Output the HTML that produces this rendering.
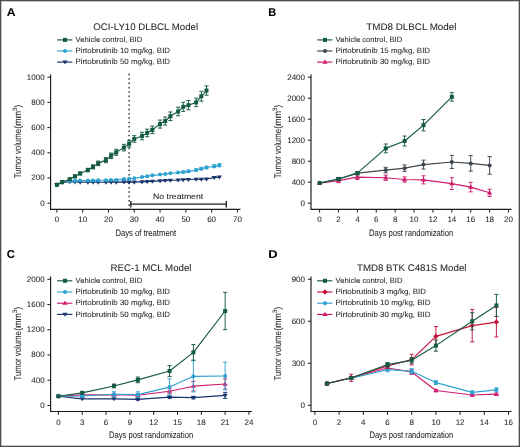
<!DOCTYPE html>
<html><head><meta charset="utf-8"><style>
html,body{margin:0;padding:0;background:#fff;}
body{width:520px;height:447px;overflow:hidden;}
svg{display:block;will-change:transform;font-family:"Liberation Sans", sans-serif;text-rendering:geometricPrecision;}
text{stroke:#262626;stroke-width:0.06px;paint-order:stroke;}
</style></head><body>
<svg width="520" height="447" viewBox="0 0 520 447">
<rect x="0" y="0" width="520" height="447" fill="#fff"/>
<text x="6.8" y="15.9" font-size="11.4" text-anchor="start" font-weight="bold" fill="#000" textLength="8.83" lengthAdjust="spacingAndGlyphs">A</text>
<text x="93.35" y="29.9" font-size="9.5" text-anchor="start" font-weight="normal" fill="#262626" textLength="104.79" lengthAdjust="spacingAndGlyphs">OCI-LY10 DLBCL Model</text>
<path d="M50.60,74.50V209.30H240.43" fill="none" stroke="#1a1a1a" stroke-width="1.15"/>
<path d="M47.40,203.20H50.60" stroke="#1a1a1a" stroke-width="1"/>
<text x="44.60" y="205.65" font-size="8.0" text-anchor="end" font-weight="normal" fill="#262626">0</text>
<path d="M47.40,178.00H50.60" stroke="#1a1a1a" stroke-width="1"/>
<text x="44.60" y="180.45" font-size="8.0" text-anchor="end" font-weight="normal" fill="#262626">200</text>
<path d="M47.40,152.80H50.60" stroke="#1a1a1a" stroke-width="1"/>
<text x="44.60" y="155.25" font-size="8.0" text-anchor="end" font-weight="normal" fill="#262626">400</text>
<path d="M47.40,127.60H50.60" stroke="#1a1a1a" stroke-width="1"/>
<text x="44.60" y="130.05" font-size="8.0" text-anchor="end" font-weight="normal" fill="#262626">600</text>
<path d="M47.40,102.40H50.60" stroke="#1a1a1a" stroke-width="1"/>
<text x="44.60" y="104.85" font-size="8.0" text-anchor="end" font-weight="normal" fill="#262626">800</text>
<path d="M47.40,77.20H50.60" stroke="#1a1a1a" stroke-width="1"/>
<text x="44.60" y="79.65" font-size="8.0" text-anchor="end" font-weight="normal" fill="#262626">1000</text>
<path d="M56.90,209.30V212.60" stroke="#1a1a1a" stroke-width="1"/>
<text x="56.90" y="222.30" font-size="8.0" text-anchor="middle" font-weight="normal" fill="#262626">0</text>
<path d="M82.69,209.30V212.60" stroke="#1a1a1a" stroke-width="1"/>
<text x="82.69" y="222.30" font-size="8.0" text-anchor="middle" font-weight="normal" fill="#262626">10</text>
<path d="M108.48,209.30V212.60" stroke="#1a1a1a" stroke-width="1"/>
<text x="108.48" y="222.30" font-size="8.0" text-anchor="middle" font-weight="normal" fill="#262626">20</text>
<path d="M134.27,209.30V212.60" stroke="#1a1a1a" stroke-width="1"/>
<text x="134.27" y="222.30" font-size="8.0" text-anchor="middle" font-weight="normal" fill="#262626">30</text>
<path d="M160.06,209.30V212.60" stroke="#1a1a1a" stroke-width="1"/>
<text x="160.06" y="222.30" font-size="8.0" text-anchor="middle" font-weight="normal" fill="#262626">40</text>
<path d="M185.85,209.30V212.60" stroke="#1a1a1a" stroke-width="1"/>
<text x="185.85" y="222.30" font-size="8.0" text-anchor="middle" font-weight="normal" fill="#262626">50</text>
<path d="M211.64,209.30V212.60" stroke="#1a1a1a" stroke-width="1"/>
<text x="211.64" y="222.30" font-size="8.0" text-anchor="middle" font-weight="normal" fill="#262626">60</text>
<path d="M237.43,209.30V212.60" stroke="#1a1a1a" stroke-width="1"/>
<text x="237.43" y="222.30" font-size="8.0" text-anchor="middle" font-weight="normal" fill="#262626">70</text>
<text x="115.47" y="235.9" font-size="9.3" text-anchor="start" font-weight="normal" fill="#262626" textLength="60.59" lengthAdjust="spacingAndGlyphs">Days of treatment</text>
<g transform="translate(21.3,178.2) rotate(-90)"><text x="-0.17" y="0" font-size="9.7" text-anchor="start" font-weight="normal" fill="#262626" textLength="49.32" lengthAdjust="spacingAndGlyphs">Tumor volume</text><text x="49.55" y="0" font-size="9.7" text-anchor="start" font-weight="normal" fill="#262626" textLength="17.73" lengthAdjust="spacingAndGlyphs">(mm</text><text x="67.05" y="-4.2" font-size="6.4" text-anchor="start" font-weight="normal" fill="#262626" textLength="3.64" lengthAdjust="spacingAndGlyphs">3</text><text x="70.75" y="0" font-size="9.7" text-anchor="start" font-weight="normal" fill="#262626" textLength="2.7" lengthAdjust="spacingAndGlyphs">)</text></g>
<path d="M129.11,73.85V210" stroke="#1a1a1a" stroke-width="1.3" stroke-dasharray="1.5,2.85"/>
<path d="M130.6,204.2H226.2" stroke="#1e1e1e" stroke-width="1.2"/>
<path d="M130.8,200.9V207.5M226.3,200.9V207.5" stroke="#1e1e1e" stroke-width="1.35"/>
<text x="153.09" y="199.2" font-size="7.9" text-anchor="start" font-weight="normal" fill="#262626" textLength="50.07" lengthAdjust="spacingAndGlyphs">No treatment</text>
<path d="M56.90,184.93L62.06,182.41L69.80,181.78L74.95,182.03L80.11,182.16L87.85,182.28L93.01,182.28L98.16,182.28L105.90,182.28L111.06,182.16L116.22,182.16L123.95,181.91L129.11,182.16L134.27,182.16L142.01,181.91L147.16,181.65L152.32,181.40L160.06,180.90L165.22,180.65L170.38,180.27L178.11,180.14L183.27,179.76L188.43,179.51L196.17,179.26L201.32,179.26L206.48,179.01L214.22,177.62L219.38,177.12" fill="none" stroke="#17346c" stroke-width="1.15" stroke-linejoin="round"/>
<path d="M54.30,183.37L59.50,183.37L56.90,187.40Z" fill="#17346c"/>
<path d="M59.46,180.85L64.66,180.85L62.06,184.88Z" fill="#17346c"/>
<path d="M67.20,180.22L72.39,180.22L69.80,184.25Z" fill="#17346c"/>
<path d="M72.35,180.47L77.55,180.47L74.95,184.50Z" fill="#17346c"/>
<path d="M77.51,180.60L82.71,180.60L80.11,184.63Z" fill="#17346c"/>
<path d="M85.25,180.72L90.45,180.72L87.85,184.75Z" fill="#17346c"/>
<path d="M90.41,180.72L95.61,180.72L93.01,184.75Z" fill="#17346c"/>
<path d="M95.56,180.72L100.76,180.72L98.16,184.75Z" fill="#17346c"/>
<path d="M103.30,180.72L108.50,180.72L105.90,184.75Z" fill="#17346c"/>
<path d="M108.46,180.60L113.66,180.60L111.06,184.63Z" fill="#17346c"/>
<path d="M113.62,180.60L118.82,180.60L116.22,184.63Z" fill="#17346c"/>
<path d="M121.35,180.35L126.55,180.35L123.95,184.38Z" fill="#17346c"/>
<path d="M126.51,180.60L131.71,180.60L129.11,184.63Z" fill="#17346c"/>
<path d="M131.67,180.60L136.87,180.60L134.27,184.63Z" fill="#17346c"/>
<path d="M139.41,180.35L144.61,180.35L142.01,184.38Z" fill="#17346c"/>
<path d="M144.56,180.09L149.76,180.09L147.16,184.12Z" fill="#17346c"/>
<path d="M149.72,179.84L154.92,179.84L152.32,183.87Z" fill="#17346c"/>
<path d="M157.46,179.34L162.66,179.34L160.06,183.37Z" fill="#17346c"/>
<path d="M162.62,179.09L167.82,179.09L165.22,183.12Z" fill="#17346c"/>
<path d="M167.78,178.71L172.98,178.71L170.38,182.74Z" fill="#17346c"/>
<path d="M175.51,178.58L180.71,178.58L178.11,182.61Z" fill="#17346c"/>
<path d="M180.67,178.20L185.87,178.20L183.27,182.23Z" fill="#17346c"/>
<path d="M185.83,177.95L191.03,177.95L188.43,181.98Z" fill="#17346c"/>
<path d="M193.57,177.70L198.77,177.70L196.17,181.73Z" fill="#17346c"/>
<path d="M198.72,177.70L203.92,177.70L201.32,181.73Z" fill="#17346c"/>
<path d="M203.88,177.45L209.08,177.45L206.48,181.48Z" fill="#17346c"/>
<path d="M211.62,176.06L216.82,176.06L214.22,180.09Z" fill="#17346c"/>
<path d="M216.78,175.56L221.98,175.56L219.38,179.59Z" fill="#17346c"/>
<path d="M56.90,184.93L62.06,182.03L69.80,181.02L74.95,180.77L80.11,180.52L87.85,180.52L93.01,180.39L98.16,180.27L105.90,180.27L111.06,180.02L116.22,179.89L123.95,179.01L129.11,178.76L134.27,178.25L142.01,177.12L147.16,176.24L152.32,175.35L160.06,174.60L165.22,173.97L170.38,173.21L178.11,172.58L183.27,172.08L188.43,171.32L196.17,170.06L201.32,168.68L206.48,167.54L214.22,166.28L219.38,165.27" fill="none" stroke="#2ea2d0" stroke-width="1.15" stroke-linejoin="round"/>
<path d="M183.27,171.20V172.96M181.22,171.20H185.32M181.22,172.96H185.32" stroke="#2ea2d0" stroke-width="0.95" fill="none"/>
<path d="M188.43,170.31V172.33M186.38,170.31H190.48M186.38,172.33H190.48" stroke="#2ea2d0" stroke-width="0.95" fill="none"/>
<path d="M196.17,168.93V171.20M194.12,168.93H198.22M194.12,171.20H198.22" stroke="#2ea2d0" stroke-width="0.95" fill="none"/>
<path d="M201.32,167.42V169.94M199.27,167.42H203.37M199.27,169.94H203.37" stroke="#2ea2d0" stroke-width="0.95" fill="none"/>
<path d="M206.48,166.28V168.80M204.43,166.28H208.53M204.43,168.80H208.53" stroke="#2ea2d0" stroke-width="0.95" fill="none"/>
<path d="M214.22,164.90V167.67M212.17,164.90H216.27M212.17,167.67H216.27" stroke="#2ea2d0" stroke-width="0.95" fill="none"/>
<path d="M219.38,163.76V166.79M217.33,163.76H221.43M217.33,166.79H221.43" stroke="#2ea2d0" stroke-width="0.95" fill="none"/>
<circle cx="56.90" cy="184.93" r="2.00" fill="#2ea2d0"/>
<circle cx="62.06" cy="182.03" r="2.00" fill="#2ea2d0"/>
<circle cx="69.80" cy="181.02" r="2.00" fill="#2ea2d0"/>
<circle cx="74.95" cy="180.77" r="2.00" fill="#2ea2d0"/>
<circle cx="80.11" cy="180.52" r="2.00" fill="#2ea2d0"/>
<circle cx="87.85" cy="180.52" r="2.00" fill="#2ea2d0"/>
<circle cx="93.01" cy="180.39" r="2.00" fill="#2ea2d0"/>
<circle cx="98.16" cy="180.27" r="2.00" fill="#2ea2d0"/>
<circle cx="105.90" cy="180.27" r="2.00" fill="#2ea2d0"/>
<circle cx="111.06" cy="180.02" r="2.00" fill="#2ea2d0"/>
<circle cx="116.22" cy="179.89" r="2.00" fill="#2ea2d0"/>
<circle cx="123.95" cy="179.01" r="2.00" fill="#2ea2d0"/>
<circle cx="129.11" cy="178.76" r="2.00" fill="#2ea2d0"/>
<circle cx="134.27" cy="178.25" r="2.00" fill="#2ea2d0"/>
<circle cx="142.01" cy="177.12" r="2.00" fill="#2ea2d0"/>
<circle cx="147.16" cy="176.24" r="2.00" fill="#2ea2d0"/>
<circle cx="152.32" cy="175.35" r="2.00" fill="#2ea2d0"/>
<circle cx="160.06" cy="174.60" r="2.00" fill="#2ea2d0"/>
<circle cx="165.22" cy="173.97" r="2.00" fill="#2ea2d0"/>
<circle cx="170.38" cy="173.21" r="2.00" fill="#2ea2d0"/>
<circle cx="178.11" cy="172.58" r="2.00" fill="#2ea2d0"/>
<circle cx="183.27" cy="172.08" r="2.00" fill="#2ea2d0"/>
<circle cx="188.43" cy="171.32" r="2.00" fill="#2ea2d0"/>
<circle cx="196.17" cy="170.06" r="2.00" fill="#2ea2d0"/>
<circle cx="201.32" cy="168.68" r="2.00" fill="#2ea2d0"/>
<circle cx="206.48" cy="167.54" r="2.00" fill="#2ea2d0"/>
<circle cx="214.22" cy="166.28" r="2.00" fill="#2ea2d0"/>
<circle cx="219.38" cy="165.27" r="2.00" fill="#2ea2d0"/>
<path d="M56.90,184.68L62.06,182.16L69.80,179.26L74.95,176.36L80.11,173.46L87.85,170.06L93.01,166.91L98.16,163.38L105.90,160.11L111.06,155.82L116.22,152.30L123.95,147.63L129.11,143.85L134.27,138.94L142.01,136.04L147.16,132.89L152.32,129.87L160.06,124.07L165.22,121.05L170.38,116.26L178.11,111.47L183.27,106.81L188.43,105.17L196.17,102.40L201.32,96.23L206.48,90.56" fill="none" stroke="#155a43" stroke-width="1.15" stroke-linejoin="round"/>
<path d="M56.90,183.67V185.69M54.85,183.67H58.95M54.85,185.69H58.95" stroke="#155a43" stroke-width="0.95" fill="none"/>
<path d="M62.06,181.02V183.29M60.01,181.02H64.11M60.01,183.29H64.11" stroke="#155a43" stroke-width="0.95" fill="none"/>
<path d="M69.80,178.00V180.52M67.75,178.00H71.84M67.75,180.52H71.84" stroke="#155a43" stroke-width="0.95" fill="none"/>
<path d="M74.95,174.98V177.75M72.90,174.98H77.00M72.90,177.75H77.00" stroke="#155a43" stroke-width="0.95" fill="none"/>
<path d="M80.11,171.95V174.98M78.06,171.95H82.16M78.06,174.98H82.16" stroke="#155a43" stroke-width="0.95" fill="none"/>
<path d="M87.85,168.30V171.83M85.80,168.30H89.90M85.80,171.83H89.90" stroke="#155a43" stroke-width="0.95" fill="none"/>
<path d="M93.01,164.90V168.93M90.96,164.90H95.06M90.96,168.93H95.06" stroke="#155a43" stroke-width="0.95" fill="none"/>
<path d="M98.16,161.12V165.65M96.11,161.12H100.21M96.11,165.65H100.21" stroke="#155a43" stroke-width="0.95" fill="none"/>
<path d="M105.90,157.59V162.63M103.85,157.59H107.95M103.85,162.63H107.95" stroke="#155a43" stroke-width="0.95" fill="none"/>
<path d="M111.06,153.05V158.60M109.01,153.05H113.11M109.01,158.60H113.11" stroke="#155a43" stroke-width="0.95" fill="none"/>
<path d="M116.22,149.27V155.32M114.17,149.27H118.27M114.17,155.32H118.27" stroke="#155a43" stroke-width="0.95" fill="none"/>
<path d="M123.95,144.36V150.91M121.90,144.36H126.00M121.90,150.91H126.00" stroke="#155a43" stroke-width="0.95" fill="none"/>
<path d="M129.11,140.58V147.13M127.06,140.58H131.16M127.06,147.13H131.16" stroke="#155a43" stroke-width="0.95" fill="none"/>
<path d="M134.27,135.66V142.22M132.22,135.66H136.32M132.22,142.22H136.32" stroke="#155a43" stroke-width="0.95" fill="none"/>
<path d="M142.01,132.26V139.82M139.96,132.26H144.06M139.96,139.82H144.06" stroke="#155a43" stroke-width="0.95" fill="none"/>
<path d="M147.16,129.11V136.67M145.11,129.11H149.22M145.11,136.67H149.22" stroke="#155a43" stroke-width="0.95" fill="none"/>
<path d="M152.32,126.09V133.65M150.27,126.09H154.37M150.27,133.65H154.37" stroke="#155a43" stroke-width="0.95" fill="none"/>
<path d="M160.06,120.04V128.10M158.01,120.04H162.11M158.01,128.10H162.11" stroke="#155a43" stroke-width="0.95" fill="none"/>
<path d="M165.22,117.02V125.08M163.17,117.02H167.27M163.17,125.08H167.27" stroke="#155a43" stroke-width="0.95" fill="none"/>
<path d="M170.38,111.98V120.54M168.33,111.98H172.43M168.33,120.54H172.43" stroke="#155a43" stroke-width="0.95" fill="none"/>
<path d="M178.11,107.19V115.76M176.06,107.19H180.16M176.06,115.76H180.16" stroke="#155a43" stroke-width="0.95" fill="none"/>
<path d="M183.27,102.27V111.35M181.22,102.27H185.32M181.22,111.35H185.32" stroke="#155a43" stroke-width="0.95" fill="none"/>
<path d="M188.43,100.51V109.83M186.38,100.51H190.48M186.38,109.83H190.48" stroke="#155a43" stroke-width="0.95" fill="none"/>
<path d="M196.17,98.12V106.68M194.12,98.12H198.22M194.12,106.68H198.22" stroke="#155a43" stroke-width="0.95" fill="none"/>
<path d="M201.32,91.31V101.14M199.27,91.31H203.37M199.27,101.14H203.37" stroke="#155a43" stroke-width="0.95" fill="none"/>
<path d="M206.48,85.89V95.22M204.43,85.89H208.53M204.43,95.22H208.53" stroke="#155a43" stroke-width="0.95" fill="none"/>
<rect x="54.90" y="182.68" width="4.00" height="4.00" fill="#155a43"/>
<rect x="60.06" y="180.16" width="4.00" height="4.00" fill="#155a43"/>
<rect x="67.80" y="177.26" width="4.00" height="4.00" fill="#155a43"/>
<rect x="72.95" y="174.36" width="4.00" height="4.00" fill="#155a43"/>
<rect x="78.11" y="171.46" width="4.00" height="4.00" fill="#155a43"/>
<rect x="85.85" y="168.06" width="4.00" height="4.00" fill="#155a43"/>
<rect x="91.01" y="164.91" width="4.00" height="4.00" fill="#155a43"/>
<rect x="96.16" y="161.38" width="4.00" height="4.00" fill="#155a43"/>
<rect x="103.90" y="158.11" width="4.00" height="4.00" fill="#155a43"/>
<rect x="109.06" y="153.82" width="4.00" height="4.00" fill="#155a43"/>
<rect x="114.22" y="150.30" width="4.00" height="4.00" fill="#155a43"/>
<rect x="121.95" y="145.63" width="4.00" height="4.00" fill="#155a43"/>
<rect x="127.11" y="141.85" width="4.00" height="4.00" fill="#155a43"/>
<rect x="132.27" y="136.94" width="4.00" height="4.00" fill="#155a43"/>
<rect x="140.01" y="134.04" width="4.00" height="4.00" fill="#155a43"/>
<rect x="145.16" y="130.89" width="4.00" height="4.00" fill="#155a43"/>
<rect x="150.32" y="127.87" width="4.00" height="4.00" fill="#155a43"/>
<rect x="158.06" y="122.07" width="4.00" height="4.00" fill="#155a43"/>
<rect x="163.22" y="119.05" width="4.00" height="4.00" fill="#155a43"/>
<rect x="168.38" y="114.26" width="4.00" height="4.00" fill="#155a43"/>
<rect x="176.11" y="109.47" width="4.00" height="4.00" fill="#155a43"/>
<rect x="181.27" y="104.81" width="4.00" height="4.00" fill="#155a43"/>
<rect x="186.43" y="103.17" width="4.00" height="4.00" fill="#155a43"/>
<rect x="194.17" y="100.40" width="4.00" height="4.00" fill="#155a43"/>
<rect x="199.32" y="94.23" width="4.00" height="4.00" fill="#155a43"/>
<rect x="204.48" y="88.56" width="4.00" height="4.00" fill="#155a43"/>
<path d="M57.1,39.9H72.4" stroke="#155a43" stroke-width="1.15"/>
<rect x="63.00" y="37.90" width="4.00" height="4.00" fill="#155a43"/>
<text x="75.57" y="42.10" font-size="7.6" text-anchor="start" font-weight="normal" fill="#262626" textLength="66.6" lengthAdjust="spacingAndGlyphs">Vehicle control, BID</text>
<path d="M57.1,51.0H72.4" stroke="#2ea2d0" stroke-width="1.15"/>
<circle cx="65.00" cy="51.00" r="2.00" fill="#2ea2d0"/>
<text x="75.45" y="53.20" font-size="7.6" text-anchor="start" font-weight="normal" fill="#262626" textLength="94.63" lengthAdjust="spacingAndGlyphs">Pirtobrutinib 10 mg/kg, BID</text>
<path d="M57.1,62.1H72.4" stroke="#17346c" stroke-width="1.15"/>
<path d="M62.40,60.54L67.60,60.54L65.00,64.57Z" fill="#17346c"/>
<text x="75.45" y="64.30" font-size="7.6" text-anchor="start" font-weight="normal" fill="#262626" textLength="94.63" lengthAdjust="spacingAndGlyphs">Pirtobrutinib 50 mg/kg, BID</text>
<text x="268.37" y="15.9" font-size="11.4" text-anchor="start" font-weight="bold" fill="#000" textLength="7.93" lengthAdjust="spacingAndGlyphs">B</text>
<text x="366.28" y="29.9" font-size="9.5" text-anchor="start" font-weight="normal" fill="#262626" textLength="90.17" lengthAdjust="spacingAndGlyphs">TMD8 DLBCL Model</text>
<path d="M311.00,74.50V209.30H511.50" fill="none" stroke="#1a1a1a" stroke-width="1.15"/>
<path d="M307.80,203.20H311.00" stroke="#1a1a1a" stroke-width="1"/>
<text x="305.00" y="205.65" font-size="8.0" text-anchor="end" font-weight="normal" fill="#262626">0</text>
<path d="M307.80,182.20H311.00" stroke="#1a1a1a" stroke-width="1"/>
<text x="305.00" y="184.65" font-size="8.0" text-anchor="end" font-weight="normal" fill="#262626">400</text>
<path d="M307.80,161.20H311.00" stroke="#1a1a1a" stroke-width="1"/>
<text x="305.00" y="163.65" font-size="8.0" text-anchor="end" font-weight="normal" fill="#262626">800</text>
<path d="M307.80,140.20H311.00" stroke="#1a1a1a" stroke-width="1"/>
<text x="305.00" y="142.65" font-size="8.0" text-anchor="end" font-weight="normal" fill="#262626">1200</text>
<path d="M307.80,119.20H311.00" stroke="#1a1a1a" stroke-width="1"/>
<text x="305.00" y="121.65" font-size="8.0" text-anchor="end" font-weight="normal" fill="#262626">1600</text>
<path d="M307.80,98.20H311.00" stroke="#1a1a1a" stroke-width="1"/>
<text x="305.00" y="100.65" font-size="8.0" text-anchor="end" font-weight="normal" fill="#262626">2000</text>
<path d="M307.80,77.20H311.00" stroke="#1a1a1a" stroke-width="1"/>
<text x="305.00" y="79.65" font-size="8.0" text-anchor="end" font-weight="normal" fill="#262626">2400</text>
<path d="M319.60,209.30V212.60" stroke="#1a1a1a" stroke-width="1"/>
<text x="319.60" y="222.30" font-size="8.0" text-anchor="middle" font-weight="normal" fill="#262626">0</text>
<path d="M338.49,209.30V212.60" stroke="#1a1a1a" stroke-width="1"/>
<text x="338.49" y="222.30" font-size="8.0" text-anchor="middle" font-weight="normal" fill="#262626">2</text>
<path d="M357.38,209.30V212.60" stroke="#1a1a1a" stroke-width="1"/>
<text x="357.38" y="222.30" font-size="8.0" text-anchor="middle" font-weight="normal" fill="#262626">4</text>
<path d="M376.27,209.30V212.60" stroke="#1a1a1a" stroke-width="1"/>
<text x="376.27" y="222.30" font-size="8.0" text-anchor="middle" font-weight="normal" fill="#262626">6</text>
<path d="M395.16,209.30V212.60" stroke="#1a1a1a" stroke-width="1"/>
<text x="395.16" y="222.30" font-size="8.0" text-anchor="middle" font-weight="normal" fill="#262626">8</text>
<path d="M414.05,209.30V212.60" stroke="#1a1a1a" stroke-width="1"/>
<text x="414.05" y="222.30" font-size="8.0" text-anchor="middle" font-weight="normal" fill="#262626">10</text>
<path d="M432.94,209.30V212.60" stroke="#1a1a1a" stroke-width="1"/>
<text x="432.94" y="222.30" font-size="8.0" text-anchor="middle" font-weight="normal" fill="#262626">12</text>
<path d="M451.83,209.30V212.60" stroke="#1a1a1a" stroke-width="1"/>
<text x="451.83" y="222.30" font-size="8.0" text-anchor="middle" font-weight="normal" fill="#262626">14</text>
<path d="M470.72,209.30V212.60" stroke="#1a1a1a" stroke-width="1"/>
<text x="470.72" y="222.30" font-size="8.0" text-anchor="middle" font-weight="normal" fill="#262626">16</text>
<path d="M489.61,209.30V212.60" stroke="#1a1a1a" stroke-width="1"/>
<text x="489.61" y="222.30" font-size="8.0" text-anchor="middle" font-weight="normal" fill="#262626">18</text>
<path d="M508.50,209.30V212.60" stroke="#1a1a1a" stroke-width="1"/>
<text x="508.50" y="222.30" font-size="8.0" text-anchor="middle" font-weight="normal" fill="#262626">20</text>
<text x="368.97" y="235.8" font-size="9.3" text-anchor="start" font-weight="normal" fill="#262626" textLength="84.22" lengthAdjust="spacingAndGlyphs">Days post randomization</text>
<g transform="translate(281.3,178.2) rotate(-90)"><text x="-0.17" y="0" font-size="9.7" text-anchor="start" font-weight="normal" fill="#262626" textLength="49.32" lengthAdjust="spacingAndGlyphs">Tumor volume</text><text x="49.55" y="0" font-size="9.7" text-anchor="start" font-weight="normal" fill="#262626" textLength="17.73" lengthAdjust="spacingAndGlyphs">(mm</text><text x="67.05" y="-4.2" font-size="6.4" text-anchor="start" font-weight="normal" fill="#262626" textLength="3.64" lengthAdjust="spacingAndGlyphs">3</text><text x="70.75" y="0" font-size="9.7" text-anchor="start" font-weight="normal" fill="#262626" textLength="2.7" lengthAdjust="spacingAndGlyphs">)</text></g>
<path d="M319.60,183.09L338.49,180.62L357.38,177.11L385.72,177.79L404.61,179.52L423.50,179.84L451.83,183.62L470.72,187.08L489.61,192.80" fill="none" stroke="#cf1d6e" stroke-width="1.15" stroke-linejoin="round"/>
<path d="M338.49,178.53V182.72M336.44,178.53H340.54M336.44,182.72H340.54" stroke="#cf1d6e" stroke-width="0.95" fill="none"/>
<path d="M357.38,174.74V179.47M355.33,174.74H359.43M355.33,179.47H359.43" stroke="#cf1d6e" stroke-width="0.95" fill="none"/>
<path d="M385.72,175.16V180.41M383.67,175.16H387.77M383.67,180.41H387.77" stroke="#cf1d6e" stroke-width="0.95" fill="none"/>
<path d="M404.61,176.90V182.15M402.56,176.90H406.66M402.56,182.15H406.66" stroke="#cf1d6e" stroke-width="0.95" fill="none"/>
<path d="M423.50,175.79V183.88M421.44,175.79H425.55M421.44,183.88H425.55" stroke="#cf1d6e" stroke-width="0.95" fill="none"/>
<path d="M451.83,177.74V189.50M449.78,177.74H453.88M449.78,189.50H453.88" stroke="#cf1d6e" stroke-width="0.95" fill="none"/>
<path d="M470.72,182.30V191.86M468.67,182.30H472.77M468.67,191.86H472.77" stroke="#cf1d6e" stroke-width="0.95" fill="none"/>
<path d="M489.61,189.18V196.43M487.56,189.18H491.66M487.56,196.43H491.66" stroke="#cf1d6e" stroke-width="0.95" fill="none"/>
<path d="M316.90,184.71L322.30,184.71L319.60,180.53Z" fill="#cf1d6e"/>
<path d="M335.79,182.25L341.19,182.25L338.49,178.06Z" fill="#cf1d6e"/>
<path d="M354.68,178.73L360.08,178.73L357.38,174.54Z" fill="#cf1d6e"/>
<path d="M383.02,179.41L388.42,179.41L385.72,175.22Z" fill="#cf1d6e"/>
<path d="M401.91,181.14L407.31,181.14L404.61,176.96Z" fill="#cf1d6e"/>
<path d="M420.80,181.46L426.19,181.46L423.50,177.27Z" fill="#cf1d6e"/>
<path d="M449.13,185.24L454.53,185.24L451.83,181.05Z" fill="#cf1d6e"/>
<path d="M468.02,188.70L473.42,188.70L470.72,184.52Z" fill="#cf1d6e"/>
<path d="M486.91,194.42L492.31,194.42L489.61,190.24Z" fill="#cf1d6e"/>
<path d="M319.60,183.09L338.49,179.00L357.38,173.17L385.72,170.07L404.61,168.18L423.50,164.61L451.83,161.99L470.72,163.40L489.61,165.40" fill="none" stroke="#3d464e" stroke-width="1.15" stroke-linejoin="round"/>
<path d="M338.49,177.95V180.05M336.44,177.95H340.54M336.44,180.05H340.54" stroke="#3d464e" stroke-width="0.95" fill="none"/>
<path d="M357.38,171.86V174.48M355.33,171.86H359.43M355.33,174.48H359.43" stroke="#3d464e" stroke-width="0.95" fill="none"/>
<path d="M385.72,167.34V172.80M383.67,167.34H387.77M383.67,172.80H387.77" stroke="#3d464e" stroke-width="0.95" fill="none"/>
<path d="M404.61,164.93V171.44M402.56,164.93H406.66M402.56,171.44H406.66" stroke="#3d464e" stroke-width="0.95" fill="none"/>
<path d="M423.50,160.15V169.07M421.44,160.15H425.55M421.44,169.07H425.55" stroke="#3d464e" stroke-width="0.95" fill="none"/>
<path d="M451.83,155.42V168.55M449.78,155.42H453.88M449.78,168.55H453.88" stroke="#3d464e" stroke-width="0.95" fill="none"/>
<path d="M470.72,155.63V171.17M468.67,155.63H472.77M468.67,171.17H472.77" stroke="#3d464e" stroke-width="0.95" fill="none"/>
<path d="M489.61,156.58V174.22M487.56,156.58H491.66M487.56,174.22H491.66" stroke="#3d464e" stroke-width="0.95" fill="none"/>
<circle cx="319.60" cy="183.09" r="2.00" fill="#3d464e"/>
<circle cx="338.49" cy="179.00" r="2.00" fill="#3d464e"/>
<circle cx="357.38" cy="173.17" r="2.00" fill="#3d464e"/>
<circle cx="385.72" cy="170.07" r="2.00" fill="#3d464e"/>
<circle cx="404.61" cy="168.18" r="2.00" fill="#3d464e"/>
<circle cx="423.50" cy="164.61" r="2.00" fill="#3d464e"/>
<circle cx="451.83" cy="161.99" r="2.00" fill="#3d464e"/>
<circle cx="470.72" cy="163.40" r="2.00" fill="#3d464e"/>
<circle cx="489.61" cy="165.40" r="2.00" fill="#3d464e"/>
<path d="M319.60,182.99L338.49,178.94L357.38,173.17L385.72,148.39L404.61,140.99L423.50,125.18L451.83,96.89" fill="none" stroke="#155a43" stroke-width="1.15" stroke-linejoin="round"/>
<path d="M338.49,177.63V180.26M336.44,177.63H340.54M336.44,180.26H340.54" stroke="#155a43" stroke-width="0.95" fill="none"/>
<path d="M357.38,171.59V174.74M355.33,171.59H359.43M355.33,174.74H359.43" stroke="#155a43" stroke-width="0.95" fill="none"/>
<path d="M385.72,143.98V152.80M383.67,143.98H387.77M383.67,152.80H387.77" stroke="#155a43" stroke-width="0.95" fill="none"/>
<path d="M404.61,136.00V145.97M402.56,136.00H406.66M402.56,145.97H406.66" stroke="#155a43" stroke-width="0.95" fill="none"/>
<path d="M423.50,119.51V130.85M421.44,119.51H425.55M421.44,130.85H425.55" stroke="#155a43" stroke-width="0.95" fill="none"/>
<path d="M451.83,92.69V101.09M449.78,92.69H453.88M449.78,101.09H453.88" stroke="#155a43" stroke-width="0.95" fill="none"/>
<rect x="317.60" y="180.99" width="4.00" height="4.00" fill="#155a43"/>
<rect x="336.49" y="176.94" width="4.00" height="4.00" fill="#155a43"/>
<rect x="355.38" y="171.17" width="4.00" height="4.00" fill="#155a43"/>
<rect x="383.72" y="146.39" width="4.00" height="4.00" fill="#155a43"/>
<rect x="402.61" y="138.99" width="4.00" height="4.00" fill="#155a43"/>
<rect x="421.50" y="123.18" width="4.00" height="4.00" fill="#155a43"/>
<rect x="449.83" y="94.89" width="4.00" height="4.00" fill="#155a43"/>
<path d="M317.1,39.9H332.4" stroke="#155a43" stroke-width="1.15"/>
<rect x="323.00" y="37.90" width="4.00" height="4.00" fill="#155a43"/>
<text x="335.57" y="42.10" font-size="7.6" text-anchor="start" font-weight="normal" fill="#262626" textLength="66.6" lengthAdjust="spacingAndGlyphs">Vehicle control, BID</text>
<path d="M317.1,51.0H332.4" stroke="#3d464e" stroke-width="1.15"/>
<circle cx="325.00" cy="51.00" r="2.00" fill="#3d464e"/>
<text x="335.45" y="53.20" font-size="7.6" text-anchor="start" font-weight="normal" fill="#262626" textLength="94.63" lengthAdjust="spacingAndGlyphs">Pirtobrutinib 15 mg/kg, BID</text>
<path d="M317.1,62.1H332.4" stroke="#cf1d6e" stroke-width="1.15"/>
<path d="M322.30,63.72L327.70,63.72L325.00,59.54Z" fill="#cf1d6e"/>
<text x="335.45" y="64.30" font-size="7.6" text-anchor="start" font-weight="normal" fill="#262626" textLength="94.63" lengthAdjust="spacingAndGlyphs">Pirtobrutinib 30 mg/kg, BID</text>
<text x="6.74" y="258.0" font-size="11.4" text-anchor="start" font-weight="bold" fill="#000" textLength="8.06" lengthAdjust="spacingAndGlyphs">C</text>
<text x="110.46" y="270.8" font-size="9.5" text-anchor="start" font-weight="normal" fill="#262626" textLength="81.09" lengthAdjust="spacingAndGlyphs">REC-1 MCL Model</text>
<path d="M50.60,276.60V411.50H251.96" fill="none" stroke="#1a1a1a" stroke-width="1.15"/>
<path d="M47.40,405.50H50.60" stroke="#1a1a1a" stroke-width="1"/>
<text x="44.60" y="407.95" font-size="8.0" text-anchor="end" font-weight="normal" fill="#262626">0</text>
<path d="M47.40,380.26H50.60" stroke="#1a1a1a" stroke-width="1"/>
<text x="44.60" y="382.71" font-size="8.0" text-anchor="end" font-weight="normal" fill="#262626">400</text>
<path d="M47.40,355.02H50.60" stroke="#1a1a1a" stroke-width="1"/>
<text x="44.60" y="357.47" font-size="8.0" text-anchor="end" font-weight="normal" fill="#262626">800</text>
<path d="M47.40,329.78H50.60" stroke="#1a1a1a" stroke-width="1"/>
<text x="44.60" y="332.23" font-size="8.0" text-anchor="end" font-weight="normal" fill="#262626">1200</text>
<path d="M47.40,304.54H50.60" stroke="#1a1a1a" stroke-width="1"/>
<text x="44.60" y="306.99" font-size="8.0" text-anchor="end" font-weight="normal" fill="#262626">1600</text>
<path d="M47.40,279.30H50.60" stroke="#1a1a1a" stroke-width="1"/>
<text x="44.60" y="281.75" font-size="8.0" text-anchor="end" font-weight="normal" fill="#262626">2000</text>
<path d="M58.40,411.50V414.80" stroke="#1a1a1a" stroke-width="1"/>
<text x="58.40" y="424.50" font-size="8.0" text-anchor="middle" font-weight="normal" fill="#262626">0</text>
<path d="M82.22,411.50V414.80" stroke="#1a1a1a" stroke-width="1"/>
<text x="82.22" y="424.50" font-size="8.0" text-anchor="middle" font-weight="normal" fill="#262626">3</text>
<path d="M106.04,411.50V414.80" stroke="#1a1a1a" stroke-width="1"/>
<text x="106.04" y="424.50" font-size="8.0" text-anchor="middle" font-weight="normal" fill="#262626">6</text>
<path d="M129.86,411.50V414.80" stroke="#1a1a1a" stroke-width="1"/>
<text x="129.86" y="424.50" font-size="8.0" text-anchor="middle" font-weight="normal" fill="#262626">9</text>
<path d="M153.68,411.50V414.80" stroke="#1a1a1a" stroke-width="1"/>
<text x="153.68" y="424.50" font-size="8.0" text-anchor="middle" font-weight="normal" fill="#262626">12</text>
<path d="M177.50,411.50V414.80" stroke="#1a1a1a" stroke-width="1"/>
<text x="177.50" y="424.50" font-size="8.0" text-anchor="middle" font-weight="normal" fill="#262626">15</text>
<path d="M201.32,411.50V414.80" stroke="#1a1a1a" stroke-width="1"/>
<text x="201.32" y="424.50" font-size="8.0" text-anchor="middle" font-weight="normal" fill="#262626">18</text>
<path d="M225.14,411.50V414.80" stroke="#1a1a1a" stroke-width="1"/>
<text x="225.14" y="424.50" font-size="8.0" text-anchor="middle" font-weight="normal" fill="#262626">21</text>
<path d="M248.96,411.50V414.80" stroke="#1a1a1a" stroke-width="1"/>
<text x="248.96" y="424.50" font-size="8.0" text-anchor="middle" font-weight="normal" fill="#262626">24</text>
<text x="108.97" y="437.7" font-size="9.3" text-anchor="start" font-weight="normal" fill="#262626" textLength="84.22" lengthAdjust="spacingAndGlyphs">Days post randomization</text>
<g transform="translate(21.3,380.3) rotate(-90)"><text x="-0.17" y="0" font-size="9.7" text-anchor="start" font-weight="normal" fill="#262626" textLength="49.32" lengthAdjust="spacingAndGlyphs">Tumor volume</text><text x="49.55" y="0" font-size="9.7" text-anchor="start" font-weight="normal" fill="#262626" textLength="17.73" lengthAdjust="spacingAndGlyphs">(mm</text><text x="67.05" y="-4.2" font-size="6.4" text-anchor="start" font-weight="normal" fill="#262626" textLength="3.64" lengthAdjust="spacingAndGlyphs">3</text><text x="70.75" y="0" font-size="9.7" text-anchor="start" font-weight="normal" fill="#262626" textLength="2.7" lengthAdjust="spacingAndGlyphs">)</text></g>
<path d="M58.40,396.22L82.22,398.81L113.98,398.87L137.80,399.38L169.56,397.11L193.38,397.61L225.14,395.40" fill="none" stroke="#17346c" stroke-width="1.15" stroke-linejoin="round"/>
<path d="M137.80,398.50V400.26M135.75,398.50H139.85M135.75,400.26H139.85" stroke="#17346c" stroke-width="0.95" fill="none"/>
<path d="M169.56,395.85V398.37M167.51,395.85H171.61M167.51,398.37H171.61" stroke="#17346c" stroke-width="0.95" fill="none"/>
<path d="M193.38,396.35V398.87M191.33,396.35H195.43M191.33,398.87H195.43" stroke="#17346c" stroke-width="0.95" fill="none"/>
<path d="M225.14,392.38V398.43M223.09,392.38H227.19M223.09,398.43H227.19" stroke="#17346c" stroke-width="0.95" fill="none"/>
<path d="M55.80,394.66L61.00,394.66L58.40,398.69Z" fill="#17346c"/>
<path d="M79.62,397.25L84.82,397.25L82.22,401.28Z" fill="#17346c"/>
<path d="M111.38,397.31L116.58,397.31L113.98,401.34Z" fill="#17346c"/>
<path d="M135.20,397.82L140.40,397.82L137.80,401.85Z" fill="#17346c"/>
<path d="M166.96,395.55L172.16,395.55L169.56,399.58Z" fill="#17346c"/>
<path d="M190.78,396.05L195.98,396.05L193.38,400.08Z" fill="#17346c"/>
<path d="M222.54,393.84L227.74,393.84L225.14,397.87Z" fill="#17346c"/>
<path d="M58.40,396.22L82.22,394.90L113.98,394.77L137.80,395.21L169.56,391.24L193.38,386.19L225.14,384.05" fill="none" stroke="#cf1d6e" stroke-width="1.15" stroke-linejoin="round"/>
<path d="M82.22,393.95V395.85M80.17,393.95H84.27M80.17,395.85H84.27" stroke="#cf1d6e" stroke-width="0.95" fill="none"/>
<path d="M113.98,393.51V396.04M111.93,393.51H116.03M111.93,396.04H116.03" stroke="#cf1d6e" stroke-width="0.95" fill="none"/>
<path d="M137.80,393.64V396.79M135.75,393.64H139.85M135.75,396.79H139.85" stroke="#cf1d6e" stroke-width="0.95" fill="none"/>
<path d="M169.56,388.72V393.76M167.51,388.72H171.61M167.51,393.76H171.61" stroke="#cf1d6e" stroke-width="0.95" fill="none"/>
<path d="M193.38,381.40V390.99M191.33,381.40H195.43M191.33,390.99H195.43" stroke="#cf1d6e" stroke-width="0.95" fill="none"/>
<path d="M225.14,378.87V389.22M223.09,378.87H227.19M223.09,389.22H227.19" stroke="#cf1d6e" stroke-width="0.95" fill="none"/>
<path d="M55.70,397.84L61.10,397.84L58.40,393.66Z" fill="#cf1d6e"/>
<path d="M79.52,396.52L84.92,396.52L82.22,392.33Z" fill="#cf1d6e"/>
<path d="M111.28,396.39L116.68,396.39L113.98,392.21Z" fill="#cf1d6e"/>
<path d="M135.10,396.83L140.50,396.83L137.80,392.65Z" fill="#cf1d6e"/>
<path d="M166.86,392.86L172.26,392.86L169.56,388.67Z" fill="#cf1d6e"/>
<path d="M190.68,387.81L196.08,387.81L193.38,383.63Z" fill="#cf1d6e"/>
<path d="M222.44,385.67L227.84,385.67L225.14,381.48Z" fill="#cf1d6e"/>
<path d="M58.40,396.22L82.22,396.04L113.98,394.27L137.80,394.65L169.56,387.07L193.38,376.35L225.14,376.03" fill="none" stroke="#2ea2d0" stroke-width="1.15" stroke-linejoin="round"/>
<path d="M82.22,395.09V396.98M80.17,395.09H84.27M80.17,396.98H84.27" stroke="#2ea2d0" stroke-width="0.95" fill="none"/>
<path d="M113.98,391.74V396.79M111.93,391.74H116.03M111.93,396.79H116.03" stroke="#2ea2d0" stroke-width="0.95" fill="none"/>
<path d="M137.80,391.81V397.49M135.75,391.81H139.85M135.75,397.49H139.85" stroke="#2ea2d0" stroke-width="0.95" fill="none"/>
<path d="M169.56,378.87V395.28M167.51,378.87H171.61M167.51,395.28H171.61" stroke="#2ea2d0" stroke-width="0.95" fill="none"/>
<path d="M193.38,360.76V391.93M191.33,360.76H195.43M191.33,391.93H195.43" stroke="#2ea2d0" stroke-width="0.95" fill="none"/>
<path d="M225.14,362.21V389.85M223.09,362.21H227.19M223.09,389.85H227.19" stroke="#2ea2d0" stroke-width="0.95" fill="none"/>
<circle cx="58.40" cy="396.22" r="2.00" fill="#2ea2d0"/>
<circle cx="82.22" cy="396.04" r="2.00" fill="#2ea2d0"/>
<circle cx="113.98" cy="394.27" r="2.00" fill="#2ea2d0"/>
<circle cx="137.80" cy="394.65" r="2.00" fill="#2ea2d0"/>
<circle cx="169.56" cy="387.07" r="2.00" fill="#2ea2d0"/>
<circle cx="193.38" cy="376.35" r="2.00" fill="#2ea2d0"/>
<circle cx="225.14" cy="376.03" r="2.00" fill="#2ea2d0"/>
<path d="M58.40,396.22L82.22,392.82L113.98,385.94L137.80,379.88L169.56,371.05L193.38,352.37L225.14,310.98" fill="none" stroke="#155a43" stroke-width="1.15" stroke-linejoin="round"/>
<path d="M82.22,391.87V393.76M80.17,391.87H84.27M80.17,393.76H84.27" stroke="#155a43" stroke-width="0.95" fill="none"/>
<path d="M113.98,384.05V387.83M111.93,384.05H116.03M111.93,387.83H116.03" stroke="#155a43" stroke-width="0.95" fill="none"/>
<path d="M137.80,377.04V382.72M135.75,377.04H139.85M135.75,382.72H139.85" stroke="#155a43" stroke-width="0.95" fill="none"/>
<path d="M169.56,365.68V376.41M167.51,365.68H171.61M167.51,376.41H171.61" stroke="#155a43" stroke-width="0.95" fill="none"/>
<path d="M193.38,344.55V360.19M191.33,344.55H195.43M191.33,360.19H195.43" stroke="#155a43" stroke-width="0.95" fill="none"/>
<path d="M225.14,292.30V329.65M223.09,292.30H227.19M223.09,329.65H227.19" stroke="#155a43" stroke-width="0.95" fill="none"/>
<rect x="56.40" y="394.22" width="4.00" height="4.00" fill="#155a43"/>
<rect x="80.22" y="390.82" width="4.00" height="4.00" fill="#155a43"/>
<rect x="111.98" y="383.94" width="4.00" height="4.00" fill="#155a43"/>
<rect x="135.80" y="377.88" width="4.00" height="4.00" fill="#155a43"/>
<rect x="167.56" y="369.05" width="4.00" height="4.00" fill="#155a43"/>
<rect x="191.38" y="350.37" width="4.00" height="4.00" fill="#155a43"/>
<rect x="223.14" y="308.98" width="4.00" height="4.00" fill="#155a43"/>
<path d="M57.1,280.8H72.4" stroke="#155a43" stroke-width="1.15"/>
<rect x="63.00" y="278.80" width="4.00" height="4.00" fill="#155a43"/>
<text x="75.57" y="283.00" font-size="7.6" text-anchor="start" font-weight="normal" fill="#262626" textLength="66.6" lengthAdjust="spacingAndGlyphs">Vehicle control, BID</text>
<path d="M57.1,292.0H72.4" stroke="#2ea2d0" stroke-width="1.15"/>
<circle cx="65.00" cy="292.00" r="2.00" fill="#2ea2d0"/>
<text x="75.45" y="294.20" font-size="7.6" text-anchor="start" font-weight="normal" fill="#262626" textLength="94.63" lengthAdjust="spacingAndGlyphs">Pirtobrutinib 10 mg/kg, BID</text>
<path d="M57.1,303.2H72.4" stroke="#cf1d6e" stroke-width="1.15"/>
<path d="M62.30,304.82L67.70,304.82L65.00,300.63Z" fill="#cf1d6e"/>
<text x="75.45" y="305.40" font-size="7.6" text-anchor="start" font-weight="normal" fill="#262626" textLength="94.63" lengthAdjust="spacingAndGlyphs">Pirtobrutinib 30 mg/kg, BID</text>
<path d="M57.1,314.4H72.4" stroke="#17346c" stroke-width="1.15"/>
<path d="M62.40,312.84L67.60,312.84L65.00,316.87Z" fill="#17346c"/>
<text x="75.45" y="316.60" font-size="7.6" text-anchor="start" font-weight="normal" fill="#262626" textLength="94.63" lengthAdjust="spacingAndGlyphs">Pirtobrutinib 50 mg/kg, BID</text>
<text x="268.24" y="258.0" font-size="11.4" text-anchor="start" font-weight="bold" fill="#000" textLength="9.3" lengthAdjust="spacingAndGlyphs">D</text>
<text x="356.98" y="270.7" font-size="9.5" text-anchor="start" font-weight="normal" fill="#262626" textLength="109.47" lengthAdjust="spacingAndGlyphs">TMD8 BTK C481S Model</text>
<path d="M311.00,276.55V411.50H511.50" fill="none" stroke="#1a1a1a" stroke-width="1.15"/>
<path d="M307.80,405.25H311.00" stroke="#1a1a1a" stroke-width="1"/>
<text x="305.00" y="407.70" font-size="8.0" text-anchor="end" font-weight="normal" fill="#262626">0</text>
<path d="M307.80,363.25H311.00" stroke="#1a1a1a" stroke-width="1"/>
<text x="305.00" y="365.70" font-size="8.0" text-anchor="end" font-weight="normal" fill="#262626">300</text>
<path d="M307.80,321.25H311.00" stroke="#1a1a1a" stroke-width="1"/>
<text x="305.00" y="323.70" font-size="8.0" text-anchor="end" font-weight="normal" fill="#262626">600</text>
<path d="M307.80,279.25H311.00" stroke="#1a1a1a" stroke-width="1"/>
<text x="305.00" y="281.70" font-size="8.0" text-anchor="end" font-weight="normal" fill="#262626">900</text>
<path d="M314.90,411.50V414.80" stroke="#1a1a1a" stroke-width="1"/>
<text x="314.90" y="424.50" font-size="8.0" text-anchor="middle" font-weight="normal" fill="#262626">0</text>
<path d="M339.10,411.50V414.80" stroke="#1a1a1a" stroke-width="1"/>
<text x="339.10" y="424.50" font-size="8.0" text-anchor="middle" font-weight="normal" fill="#262626">2</text>
<path d="M363.30,411.50V414.80" stroke="#1a1a1a" stroke-width="1"/>
<text x="363.30" y="424.50" font-size="8.0" text-anchor="middle" font-weight="normal" fill="#262626">4</text>
<path d="M387.50,411.50V414.80" stroke="#1a1a1a" stroke-width="1"/>
<text x="387.50" y="424.50" font-size="8.0" text-anchor="middle" font-weight="normal" fill="#262626">6</text>
<path d="M411.70,411.50V414.80" stroke="#1a1a1a" stroke-width="1"/>
<text x="411.70" y="424.50" font-size="8.0" text-anchor="middle" font-weight="normal" fill="#262626">8</text>
<path d="M435.90,411.50V414.80" stroke="#1a1a1a" stroke-width="1"/>
<text x="435.90" y="424.50" font-size="8.0" text-anchor="middle" font-weight="normal" fill="#262626">10</text>
<path d="M460.10,411.50V414.80" stroke="#1a1a1a" stroke-width="1"/>
<text x="460.10" y="424.50" font-size="8.0" text-anchor="middle" font-weight="normal" fill="#262626">12</text>
<path d="M484.30,411.50V414.80" stroke="#1a1a1a" stroke-width="1"/>
<text x="484.30" y="424.50" font-size="8.0" text-anchor="middle" font-weight="normal" fill="#262626">14</text>
<path d="M508.50,411.50V414.80" stroke="#1a1a1a" stroke-width="1"/>
<text x="508.50" y="424.50" font-size="8.0" text-anchor="middle" font-weight="normal" fill="#262626">16</text>
<text x="369.38" y="438.0" font-size="9.3" text-anchor="start" font-weight="normal" fill="#262626" textLength="83.82" lengthAdjust="spacingAndGlyphs">Days post randomization</text>
<g transform="translate(281.3,380.3) rotate(-90)"><text x="-0.17" y="0" font-size="9.7" text-anchor="start" font-weight="normal" fill="#262626" textLength="49.32" lengthAdjust="spacingAndGlyphs">Tumor volume</text><text x="49.55" y="0" font-size="9.7" text-anchor="start" font-weight="normal" fill="#262626" textLength="17.73" lengthAdjust="spacingAndGlyphs">(mm</text><text x="67.05" y="-4.2" font-size="6.4" text-anchor="start" font-weight="normal" fill="#262626" textLength="3.64" lengthAdjust="spacingAndGlyphs">3</text><text x="70.75" y="0" font-size="9.7" text-anchor="start" font-weight="normal" fill="#262626" textLength="2.7" lengthAdjust="spacingAndGlyphs">)</text></g>
<path d="M327.00,383.55L351.20,377.81L387.50,368.01L411.70,371.93L435.90,390.55L472.20,395.03L496.40,394.19" fill="none" stroke="#cf1d6e" stroke-width="1.15" stroke-linejoin="round"/>
<path d="M327.00,382.43V384.67M324.95,382.43H329.05M324.95,384.67H329.05" stroke="#cf1d6e" stroke-width="0.95" fill="none"/>
<path d="M351.20,374.17V381.45M349.15,374.17H353.25M349.15,381.45H353.25" stroke="#cf1d6e" stroke-width="0.95" fill="none"/>
<path d="M387.50,365.91V370.11M385.45,365.91H389.55M385.45,370.11H389.55" stroke="#cf1d6e" stroke-width="0.95" fill="none"/>
<path d="M411.70,369.41V374.45M409.65,369.41H413.75M409.65,374.45H413.75" stroke="#cf1d6e" stroke-width="0.95" fill="none"/>
<path d="M435.90,389.43V391.67M433.85,389.43H437.95M433.85,391.67H437.95" stroke="#cf1d6e" stroke-width="0.95" fill="none"/>
<path d="M472.20,393.91V396.15M470.15,393.91H474.25M470.15,396.15H474.25" stroke="#cf1d6e" stroke-width="0.95" fill="none"/>
<path d="M496.40,393.07V395.31M494.35,393.07H498.45M494.35,395.31H498.45" stroke="#cf1d6e" stroke-width="0.95" fill="none"/>
<path d="M324.30,385.17L329.70,385.17L327.00,380.99Z" fill="#cf1d6e"/>
<path d="M348.50,379.43L353.90,379.43L351.20,375.25Z" fill="#cf1d6e"/>
<path d="M384.80,369.63L390.20,369.63L387.50,365.44Z" fill="#cf1d6e"/>
<path d="M409.00,373.55L414.40,373.55L411.70,369.37Z" fill="#cf1d6e"/>
<path d="M433.20,392.17L438.60,392.17L435.90,387.99Z" fill="#cf1d6e"/>
<path d="M469.50,396.65L474.90,396.65L472.20,392.46Z" fill="#cf1d6e"/>
<path d="M493.70,395.81L499.10,395.81L496.40,391.62Z" fill="#cf1d6e"/>
<path d="M327.00,383.55L351.20,378.09L387.50,369.69L411.70,371.23L435.90,382.57L472.20,392.37L496.40,389.85" fill="none" stroke="#2ea2d0" stroke-width="1.15" stroke-linejoin="round"/>
<path d="M327.00,382.43V384.67M324.95,382.43H329.05M324.95,384.67H329.05" stroke="#2ea2d0" stroke-width="0.95" fill="none"/>
<path d="M351.20,376.69V379.49M349.15,376.69H353.25M349.15,379.49H353.25" stroke="#2ea2d0" stroke-width="0.95" fill="none"/>
<path d="M387.50,367.59V371.79M385.45,367.59H389.55M385.45,371.79H389.55" stroke="#2ea2d0" stroke-width="0.95" fill="none"/>
<path d="M411.70,368.71V373.75M409.65,368.71H413.75M409.65,373.75H413.75" stroke="#2ea2d0" stroke-width="0.95" fill="none"/>
<path d="M435.90,380.61V384.53M433.85,380.61H437.95M433.85,384.53H437.95" stroke="#2ea2d0" stroke-width="0.95" fill="none"/>
<path d="M472.20,390.97V393.77M470.15,390.97H474.25M470.15,393.77H474.25" stroke="#2ea2d0" stroke-width="0.95" fill="none"/>
<path d="M496.40,387.89V391.81M494.35,387.89H498.45M494.35,391.81H498.45" stroke="#2ea2d0" stroke-width="0.95" fill="none"/>
<circle cx="327.00" cy="383.55" r="2.00" fill="#2ea2d0"/>
<circle cx="351.20" cy="378.09" r="2.00" fill="#2ea2d0"/>
<circle cx="387.50" cy="369.69" r="2.00" fill="#2ea2d0"/>
<circle cx="411.70" cy="371.23" r="2.00" fill="#2ea2d0"/>
<circle cx="435.90" cy="382.57" r="2.00" fill="#2ea2d0"/>
<circle cx="472.20" cy="392.37" r="2.00" fill="#2ea2d0"/>
<circle cx="496.40" cy="389.85" r="2.00" fill="#2ea2d0"/>
<path d="M327.00,383.55L351.20,377.81L387.50,366.05L411.70,359.61L435.90,336.37L472.20,325.59L496.40,322.09" fill="none" stroke="#c3123a" stroke-width="1.15" stroke-linejoin="round"/>
<path d="M327.00,382.43V384.67M324.95,382.43H329.05M324.95,384.67H329.05" stroke="#c3123a" stroke-width="0.95" fill="none"/>
<path d="M351.20,376.69V378.93M349.15,376.69H353.25M349.15,378.93H353.25" stroke="#c3123a" stroke-width="0.95" fill="none"/>
<path d="M387.50,363.95V368.15M385.45,363.95H389.55M385.45,368.15H389.55" stroke="#c3123a" stroke-width="0.95" fill="none"/>
<path d="M411.70,354.29V364.93M409.65,354.29H413.75M409.65,364.93H413.75" stroke="#c3123a" stroke-width="0.95" fill="none"/>
<path d="M435.90,326.57V346.17M433.85,326.57H437.95M433.85,346.17H437.95" stroke="#c3123a" stroke-width="0.95" fill="none"/>
<path d="M472.20,309.35V341.83M470.15,309.35H474.25M470.15,341.83H474.25" stroke="#c3123a" stroke-width="0.95" fill="none"/>
<path d="M496.40,307.25V336.93M494.35,307.25H498.45M494.35,336.93H498.45" stroke="#c3123a" stroke-width="0.95" fill="none"/>
<path d="M327.00,380.85L329.70,383.55L327.00,386.25L324.30,383.55Z" fill="#c3123a"/>
<path d="M351.20,375.11L353.90,377.81L351.20,380.51L348.50,377.81Z" fill="#c3123a"/>
<path d="M387.50,363.35L390.20,366.05L387.50,368.75L384.80,366.05Z" fill="#c3123a"/>
<path d="M411.70,356.91L414.40,359.61L411.70,362.31L409.00,359.61Z" fill="#c3123a"/>
<path d="M435.90,333.67L438.60,336.37L435.90,339.07L433.20,336.37Z" fill="#c3123a"/>
<path d="M472.20,322.89L474.90,325.59L472.20,328.29L469.50,325.59Z" fill="#c3123a"/>
<path d="M496.40,319.39L499.10,322.09L496.40,324.79L493.70,322.09Z" fill="#c3123a"/>
<path d="M327.00,383.55L351.20,377.95L387.50,364.65L411.70,360.31L435.90,345.61L472.20,321.25L496.40,305.43" fill="none" stroke="#155a43" stroke-width="1.15" stroke-linejoin="round"/>
<path d="M327.00,382.43V384.67M324.95,382.43H329.05M324.95,384.67H329.05" stroke="#155a43" stroke-width="0.95" fill="none"/>
<path d="M351.20,376.55V379.35M349.15,376.55H353.25M349.15,379.35H353.25" stroke="#155a43" stroke-width="0.95" fill="none"/>
<path d="M387.50,362.55V366.75M385.45,362.55H389.55M385.45,366.75H389.55" stroke="#155a43" stroke-width="0.95" fill="none"/>
<path d="M411.70,357.51V363.11M409.65,357.51H413.75M409.65,363.11H413.75" stroke="#155a43" stroke-width="0.95" fill="none"/>
<path d="M435.90,340.01V351.21M433.85,340.01H437.95M433.85,351.21H437.95" stroke="#155a43" stroke-width="0.95" fill="none"/>
<path d="M472.20,312.71V329.79M470.15,312.71H474.25M470.15,329.79H474.25" stroke="#155a43" stroke-width="0.95" fill="none"/>
<path d="M496.40,294.37V316.49M494.35,294.37H498.45M494.35,316.49H498.45" stroke="#155a43" stroke-width="0.95" fill="none"/>
<rect x="325.00" y="381.55" width="4.00" height="4.00" fill="#155a43"/>
<rect x="349.20" y="375.95" width="4.00" height="4.00" fill="#155a43"/>
<rect x="385.50" y="362.65" width="4.00" height="4.00" fill="#155a43"/>
<rect x="409.70" y="358.31" width="4.00" height="4.00" fill="#155a43"/>
<rect x="433.90" y="343.61" width="4.00" height="4.00" fill="#155a43"/>
<rect x="470.20" y="319.25" width="4.00" height="4.00" fill="#155a43"/>
<rect x="494.40" y="303.43" width="4.00" height="4.00" fill="#155a43"/>
<path d="M317.1,280.8H332.4" stroke="#155a43" stroke-width="1.15"/>
<rect x="323.00" y="278.80" width="4.00" height="4.00" fill="#155a43"/>
<text x="335.57" y="283.00" font-size="7.6" text-anchor="start" font-weight="normal" fill="#262626" textLength="67.0" lengthAdjust="spacingAndGlyphs">Vehicle control, BID</text>
<path d="M317.1,292.0H332.4" stroke="#c3123a" stroke-width="1.15"/>
<path d="M325.00,289.30L327.70,292.00L325.00,294.70L322.30,292.00Z" fill="#c3123a"/>
<text x="335.45" y="294.20" font-size="7.6" text-anchor="start" font-weight="normal" fill="#262626" textLength="90.53" lengthAdjust="spacingAndGlyphs">Pirtobrutinib 3 mg/kg, BID</text>
<path d="M317.1,303.2H332.4" stroke="#2ea2d0" stroke-width="1.15"/>
<circle cx="325.00" cy="303.20" r="2.00" fill="#2ea2d0"/>
<text x="335.45" y="305.40" font-size="7.6" text-anchor="start" font-weight="normal" fill="#262626" textLength="95.13" lengthAdjust="spacingAndGlyphs">Pirtobrutinib 10 mg/kg, BID</text>
<path d="M317.1,314.4H332.4" stroke="#cf1d6e" stroke-width="1.15"/>
<path d="M322.30,316.02L327.70,316.02L325.00,311.83Z" fill="#cf1d6e"/>
<text x="335.45" y="316.60" font-size="7.6" text-anchor="start" font-weight="normal" fill="#262626" textLength="95.13" lengthAdjust="spacingAndGlyphs">Pirtobrutinib 30 mg/kg, BID</text>
<rect x="0.65" y="0.65" width="518.7" height="445.7" fill="none" stroke="#4d4d4d" stroke-width="1.3"/>
</svg>
</body></html>
